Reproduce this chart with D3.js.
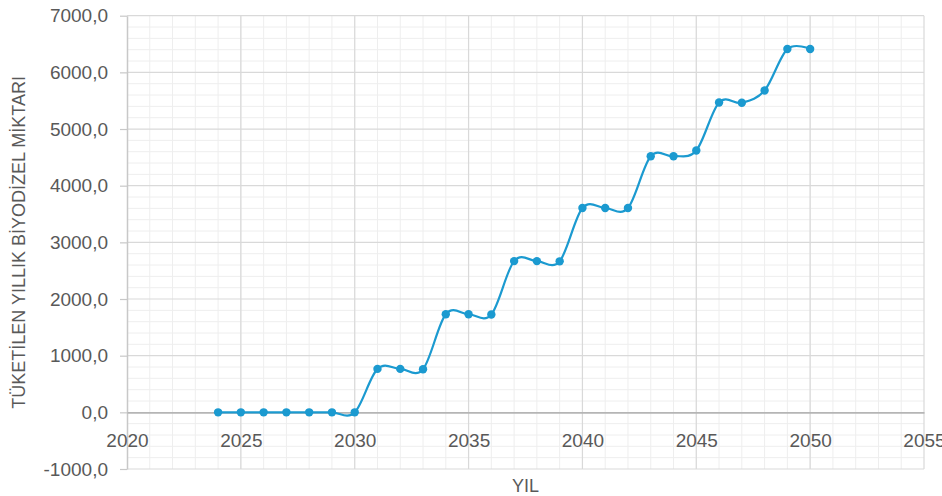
<!DOCTYPE html>
<html>
<head>
<meta charset="utf-8">
<script src="https://cdn.jsdelivr.net/npm/d3@7"></script>
<style>
  html, body { margin: 0; padding: 0; background: #fff; }
  svg { display: block; font-family: "Liberation Sans", Arial, sans-serif; }
</style>
</head>
<body>
<svg id="chart" width="942" height="496"></svg>
<script>
// Annual biodiesel consumption by year
const years = [2024, 2025, 2026, 2027, 2028, 2029, 2030, 2031, 2032, 2033, 2034, 2035, 2036,
               2037, 2038, 2039, 2040, 2041, 2042, 2043, 2044, 2045, 2046, 2047, 2048, 2049, 2050];
const consumption = [0, 0, 0, 0, 0, 0, 0, 767, 767, 761, 1731, 1731, 1727,
                     2669, 2669, 2665, 3606, 3606, 3606, 4520, 4520, 4621, 5469, 5463, 5681, 6411, 6411];

const xTicks = [2020, 2025, 2030, 2035, 2040, 2045, 2050, 2055];
const yTicks = [-1000, 0, 1000, 2000, 3000, 4000, 5000, 6000, 7000];
const yTitle = "TÜKETİLEN YILLIK BİYODİZEL MİKTARI";
const xTitle = "YIL";

const svg = d3.select("#chart");
const plotL = 127, plotR = 924, plotT = 15.7, plotB = 469;

const x = d3.scaleLinear().domain([2020, 2055]).range([plotL, plotR]);
const y = d3.scaleLinear().domain([-1000, 7000]).range([plotB, plotT]);

const fmt = v => (v < 0 ? "-" : "") + Math.abs(v).toFixed(1).replace(".", ",");

// minor grid: every year / every 200
const g = svg.append("g");
g.selectAll("line.vminor").data(d3.range(2021, 2055)).join("line")
  .attr("x1", d => x(d)).attr("x2", d => x(d)).attr("y1", plotT).attr("y2", plotB)
  .attr("stroke", "#eeeeee").attr("stroke-width", 1);
g.selectAll("line.hminor").data(d3.range(-800, 7000, 200).filter(v => v % 1000 !== 0)).join("line")
  .attr("x1", plotL).attr("x2", plotR).attr("y1", d => y(d)).attr("y2", d => y(d))
  .attr("stroke", "#eeeeee").attr("stroke-width", 1);

// major grid
g.selectAll("line.vmajor").data(xTicks.slice(1)).join("line")
  .attr("x1", d => x(d)).attr("x2", d => x(d)).attr("y1", plotT).attr("y2", plotB)
  .attr("stroke", "#d9d9d9").attr("stroke-width", 1.2);
g.selectAll("line.hmajor").data(yTicks.filter(v => v !== 0)).join("line")
  .attr("x1", plotL).attr("x2", plotR).attr("y1", d => y(d)).attr("y2", d => y(d))
  .attr("stroke", "#d9d9d9").attr("stroke-width", 1.2);

// y axis
const yAxis = svg.append("g").attr("transform", `translate(${plotL},0)`)
  .call(d3.axisLeft(y).tickValues(yTicks).tickFormat(fmt).tickSize(7).tickPadding(12).tickSizeOuter(0));
yAxis.select(".domain").attr("stroke", "#c8c8c8").attr("stroke-width", 1.5);
yAxis.selectAll(".tick line").attr("stroke", "#c8c8c8").attr("stroke-width", 1.2);
yAxis.selectAll(".tick text").attr("fill", "#595959").style("font-size", "19px")
  .attr("font-family", "Liberation Sans, Arial, sans-serif");

// x axis along zero
const xAxis = svg.append("g").attr("transform", `translate(0,${y(0)})`)
  .call(d3.axisBottom(x).tickValues(xTicks).tickFormat(d3.format("d")).tickSize(0).tickPadding(21));
xAxis.select(".domain").attr("stroke", "#b5b5b5").attr("stroke-width", 1.6);
xAxis.selectAll(".tick text").attr("fill", "#595959").style("font-size", "19px")
  .attr("font-family", "Liberation Sans, Arial, sans-serif");

// axis titles
svg.append("text")
  .attr("transform", `translate(25,${(plotT + plotB) / 2}) rotate(-90)`)
  .attr("text-anchor", "middle")
  .attr("fill", "#595959").style("font-size", "18px")
  .text(yTitle);
svg.append("text")
  .attr("x", (plotL + plotR) / 2).attr("y", 492)
  .attr("text-anchor", "middle")
  .attr("fill", "#595959").style("font-size", "18px")
  .text(xTitle);

// series
const pts = years.map((yr, i) => [yr, consumption[i]]);
const line = d3.line().x(d => x(d[0])).y(d => y(d[1])).curve(d3.curveCardinal.tension(0));
svg.append("path").datum(pts)
  .attr("d", line).attr("fill", "none")
  .attr("stroke", "#1b9ad0").attr("stroke-width", 2.2);
svg.selectAll("circle.pt").data(pts).join("circle")
  .attr("cx", d => x(d[0])).attr("cy", d => y(d[1])).attr("r", 4.2)
  .attr("fill", "#1b9ad0");
</script>
</body>
</html>
